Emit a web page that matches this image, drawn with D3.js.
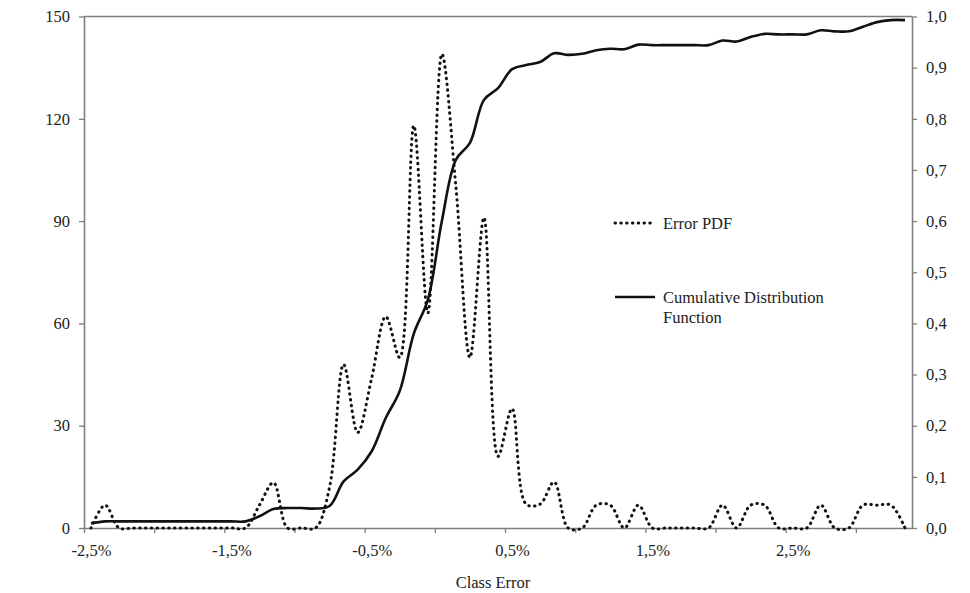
<!DOCTYPE html>
<html>
<head>
<meta charset="utf-8">
<script src="https://cdn.jsdelivr.net/npm/d3@7"></script>
<style>
  body { margin: 0; background: #fff; }
  text { font-family: "Liberation Serif", "Times New Roman", serif; fill: #222; }
</style>
</head>
<body>
<script>
// Class error categories (%), step 0.1
const classError = [-2.5, -2.4, -2.3, -2.2, -2.1, -2.0, -1.9, -1.8, -1.7, -1.6,
  -1.5, -1.4, -1.3, -1.2, -1.1, -1.0, -0.9, -0.8, -0.7, -0.6,
  -0.5, -0.4, -0.3, -0.2, -0.1, 0.0, 0.1, 0.2, 0.3, 0.4,
  0.5, 0.6, 0.7, 0.8, 0.9, 1.0, 1.1, 1.2, 1.3, 1.4,
  1.5, 1.6, 1.7, 1.8, 1.9, 2.0, 2.1, 2.2, 2.3, 2.4,
  2.5, 2.6, 2.7, 2.8, 2.9, 3.0, 3.1, 3.2, 3.3];

// Error PDF (left axis)
const errorPdf = [0, 6.7, 0, 0, 0, 0, 0, 0, 0, 0,
  0, 0, 6.7, 13.3, 0, 0, 0, 12, 48, 28,
  44, 62, 50, 118, 63, 139, 100, 50, 91, 21,
  35, 7, 7, 13.5, 0, 0, 6.7, 6.7, 0, 6.7,
  0, 0, 0, 0, 0, 6.7, 0, 6.7, 6.7, 0,
  0, 0, 6.7, 0, 0, 6.7, 6.7, 6.7, 0];

// Cumulative distribution function (right axis)
const cdf = [0.009, 0.013, 0.013, 0.013, 0.013, 0.013, 0.013, 0.013, 0.013, 0.013,
  0.013, 0.013, 0.023, 0.037, 0.039, 0.039, 0.038, 0.043, 0.091, 0.114,
  0.15, 0.215, 0.268, 0.38, 0.446, 0.6, 0.72, 0.753, 0.837, 0.86,
  0.897, 0.905, 0.911, 0.928, 0.925, 0.927, 0.934, 0.937, 0.936, 0.945,
  0.944, 0.944, 0.944, 0.944, 0.944, 0.953, 0.951, 0.96, 0.966, 0.965,
  0.965, 0.965, 0.973, 0.971, 0.971, 0.98, 0.989, 0.993, 0.993];

// Tick values
const xLabelTicks = [-2.5, -1.5, -0.5, 0.5, 1.5, 2.5];
const xMarkTicks = [-2.55, -2.05, -1.55, -1.05, -0.55, -0.05, 0.45, 0.95, 1.45, 1.95, 2.45, 2.95];
const leftTicks = [0, 30, 60, 90, 120, 150];
const rightTicks = [0, 0.1, 0.2, 0.3, 0.4, 0.5, 0.6, 0.7, 0.8, 0.9, 1.0];

const data = classError.map((d, i) => ({x: d, pdf: errorPdf[i], cdf: cdf[i]}));

// Dimensions
const margin = {top: 16.5, right: 58, bottom: 65, left: 84};
const W = 970, H = 593;
const width = W - margin.left - margin.right;
const height = H - margin.top - margin.bottom;
const fontSize = "16.5px";

const locale = d3.formatLocale({decimal: ",", thousands: ".", grouping: [3], currency: ["", ""], minus: "-"});
const fmt1 = locale.format(".1f");

const svg = d3.select("body").append("svg")
  .attr("width", W)
  .attr("height", H)
  .append("g")
  .attr("transform", "translate(" + margin.left + "," + margin.top + ")");

// Scales
const xScale = d3.scaleLinear().domain([-2.55, 3.35]).range([0, width]);
const yLeft = d3.scaleLinear().domain([0, 150]).range([height, 0]);
const yRight = d3.scaleLinear().domain([0, 1]).range([height, 0]);

const axisColor = "#7d7d7d";

// Top border of plot area
svg.append("line")
  .attr("x1", 0).attr("x2", width)
  .attr("y1", 0).attr("y2", 0)
  .attr("stroke", axisColor).attr("stroke-width", 1.6);

// Left axis
const gl = svg.append("g")
  .call(d3.axisLeft(yLeft).tickValues(leftTicks).tickSize(5).tickSizeOuter(0).tickPadding(9));

// Right axis
const gr = svg.append("g")
  .attr("transform", "translate(" + width + ",0)")
  .call(d3.axisRight(yRight).tickValues(rightTicks).tickSize(5).tickSizeOuter(0).tickPadding(9).tickFormat(fmt1));

// Bottom axis: tick marks between category groups
const gb = svg.append("g")
  .attr("transform", "translate(0," + height + ")")
  .call(d3.axisBottom(xScale).tickValues(xMarkTicks).tickSize(5).tickSizeOuter(0).tickFormat(""));

// Bottom axis labels
const gbl = svg.append("g")
  .attr("transform", "translate(0," + height + ")")
  .call(d3.axisBottom(xScale).tickValues(xLabelTicks).tickSize(0).tickPadding(16).tickFormat(d => fmt1(d) + "%"));
gbl.select(".domain").remove();

[gl, gr, gb].forEach(g => {
  g.select(".domain").attr("stroke", axisColor).attr("stroke-width", 1.6);
  g.selectAll(".tick line").attr("stroke", axisColor).attr("stroke-width", 1.3);
});
[gl, gr, gbl].forEach(g => {
  g.selectAll(".tick text")
    .style("font-family", "'Liberation Serif', serif")
    .style("font-size", fontSize)
    .attr("fill", "#222");
});

// Lines
const pdfLine = d3.line()
  .x(d => xScale(d.x))
  .y(d => yLeft(d.pdf))
  .curve(d3.curveCatmullRom.alpha(0.5));

const cdfLine = d3.line()
  .x(d => xScale(d.x))
  .y(d => yRight(d.cdf))
  .curve(d3.curveCatmullRom.alpha(0.5));

svg.append("path")
  .datum(data)
  .attr("d", pdfLine)
  .attr("fill", "none")
  .attr("stroke", "#111")
  .attr("stroke-width", 3)
  .attr("stroke-linecap", "round")
  .attr("stroke-dasharray", "0.5,5.3");

svg.append("path")
  .datum(data)
  .attr("d", cdfLine)
  .attr("fill", "none")
  .attr("stroke", "#111")
  .attr("stroke-width", 2.6);

// X axis title
svg.append("text")
  .attr("x", width / 2 - 5)
  .attr("y", height + 60)
  .style("text-anchor", "middle")
  .style("font-size", fontSize)
  .text("Class Error");

// Legend
const legend = svg.append("g")
  .attr("transform", "translate(" + (615 - margin.left) + "," + (223 - margin.top) + ")");

legend.append("line")
  .attr("x1", 0).attr("x2", 38).attr("y1", 0).attr("y2", 0)
  .attr("stroke", "#111").attr("stroke-width", 3)
  .attr("stroke-linecap", "round").attr("stroke-dasharray", "0.5,5.3");

legend.append("text")
  .attr("x", 48).attr("y", 0).attr("dy", ".35em")
  .style("font-size", fontSize)
  .text("Error PDF");

legend.append("line")
  .attr("x1", 0).attr("x2", 40).attr("y1", 74).attr("y2", 74)
  .attr("stroke", "#111").attr("stroke-width", 2.6);

legend.append("text")
  .attr("x", 48).attr("y", 74).attr("dy", ".35em")
  .style("font-size", fontSize)
  .text("Cumulative Distribution");

legend.append("text")
  .attr("x", 48).attr("y", 94).attr("dy", ".35em")
  .style("font-size", fontSize)
  .text("Function");
</script>
</body>
</html>
